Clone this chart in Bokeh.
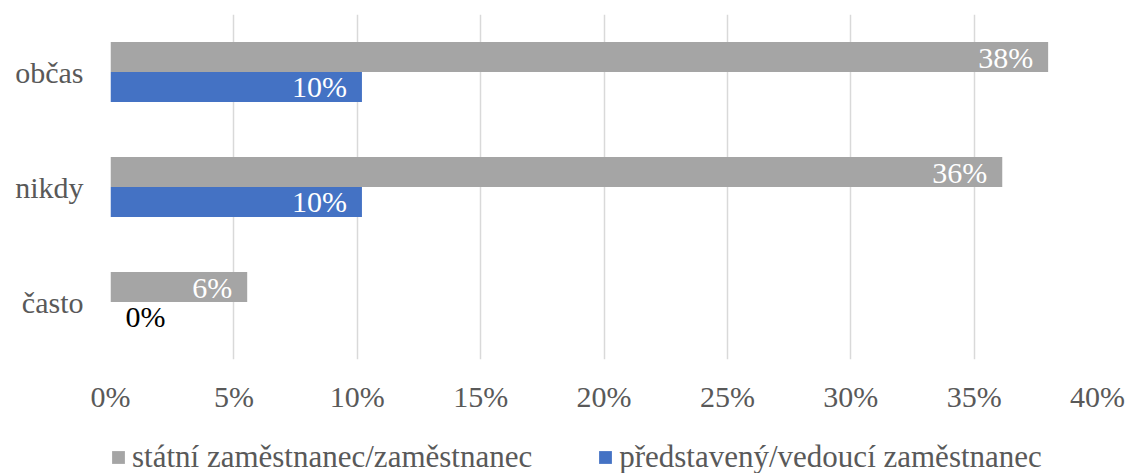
from bokeh.plotting import figure
from bokeh.layouts import column
from bokeh.models import (FactorRange, Range1d, FixedTicker, PrintfTickFormatter,
                          ColumnDataSource, Legend, LegendItem)
from bokeh.transform import dodge
from bokeh.core.properties import value
from bokeh.embed import file_html
from bokeh.resources import INLINE

categories = ["často", "nikdy", "občas"]
statni = [5.54, 36.14, 38.0]
vedouci = [0.0, 10.19, 10.19]
series_names = ["státní zaměstnanec/zaměstnanec", "představený/vedoucí zaměstnanec"]
ticks = [0, 5, 10, 15, 20, 25, 30, 35, 40]

FONT = "Times New Roman"
GRAY = "#a5a5a5"
BLUE = "#4472c4"
TXT = "#595959"

p = figure(frame_width=987, frame_height=345, y_range=FactorRange(*categories),
           x_range=Range1d(0, 40), output_backend="svg", toolbar_location=None,
           min_border_left=110, min_border_right=29, min_border_top=14, min_border_bottom=65)
p.outline_line_color = None
p.ygrid.grid_line_color = None
p.xgrid.grid_line_color = "#d9d9d9"
p.xgrid.grid_line_width = 1.5
p.xaxis.ticker = FixedTicker(ticks=ticks)
p.xaxis.formatter = PrintfTickFormatter(format="%d%%")
for ax in (p.xaxis[0], p.yaxis[0]):
    ax.axis_line_color = None
    ax.major_tick_line_color = None
    ax.minor_tick_line_color = None
    ax.major_tick_out = 0
    ax.major_tick_in = 0
    ax.major_label_text_font = FONT
    ax.major_label_text_font_size = "30px"
    ax.major_label_text_color = TXT
p.xaxis.major_label_standoff = 20
p.yaxis.major_label_standoff = 27


def lab(v):
    return "%d%%" % round(v)


src_g = ColumnDataSource(dict(cat=categories, val=statni, lab=[lab(v) for v in statni]))
src_b = ColumnDataSource(dict(cat=categories, val=vedouci, lab=[lab(v) for v in vedouci],
                              tx=[v if v > 2 else 0 for v in vedouci],
                              col=["white" if v > 2 else "black" for v in vedouci],
                              al=["right" if v > 2 else "left" for v in vedouci],
                              off=[-15 if v > 2 else 15 for v in vedouci]))

p.hbar(y=dodge("cat", 0.13, range=p.y_range), left=0, right="val", height=0.26,
       color=GRAY, line_color=None, source=src_g)
p.hbar(y=dodge("cat", -0.13, range=p.y_range), left=0, right="val", height=0.26,
       color=BLUE, line_color=None, source=src_b)

p.text(x="val", y=dodge("cat", 0.13, range=p.y_range), text="lab", source=src_g,
       text_align="right", text_baseline="middle", x_offset=-15,
       text_color="white", text_font=value(FONT), text_font_size="30px")
p.text(x="tx", y=dodge("cat", -0.13, range=p.y_range), text="lab", source=src_b,
       text_align="al", text_baseline="middle", x_offset="off",
       text_color="col", text_font=value(FONT), text_font_size="30px")

# legend strip below the chart (renderers hold no visible marks, only their style)
lg = figure(width=1126, height=66, x_range=Range1d(0, 1), y_range=Range1d(0, 1),
            x_axis_type=None, y_axis_type=None, output_backend="svg", toolbar_location=None,
            min_border=0)
lg.outline_line_color = None
lg.grid.visible = False
lr1 = lg.hbar(y="y", right="right", left=0, height=0.0, color=GRAY, line_color=None,
              source=ColumnDataSource(dict(y=[-5], right=[0])))
lr2 = lg.hbar(y="y", right="right", left=0, height=0.0, color=BLUE, line_color=None,
              source=ColumnDataSource(dict(y=[-5], right=[0])))
legend = Legend(items=[LegendItem(label=series_names[0], renderers=[lr1]),
                       LegendItem(label=series_names[1], renderers=[lr2])],
                orientation="horizontal", location="left", margin=0,
                glyph_width=16, glyph_height=16, label_standoff=6, spacing=65,
                padding=0, border_line_color=None, background_fill_alpha=0,
                label_text_font=FONT, label_text_font_size="31px",
                label_text_color=TXT, label_height=16)
lg.add_layout(legend, "center")

layout = column(p, lg, spacing=0)
open("out.html", "w").write(file_html(layout, INLINE))
